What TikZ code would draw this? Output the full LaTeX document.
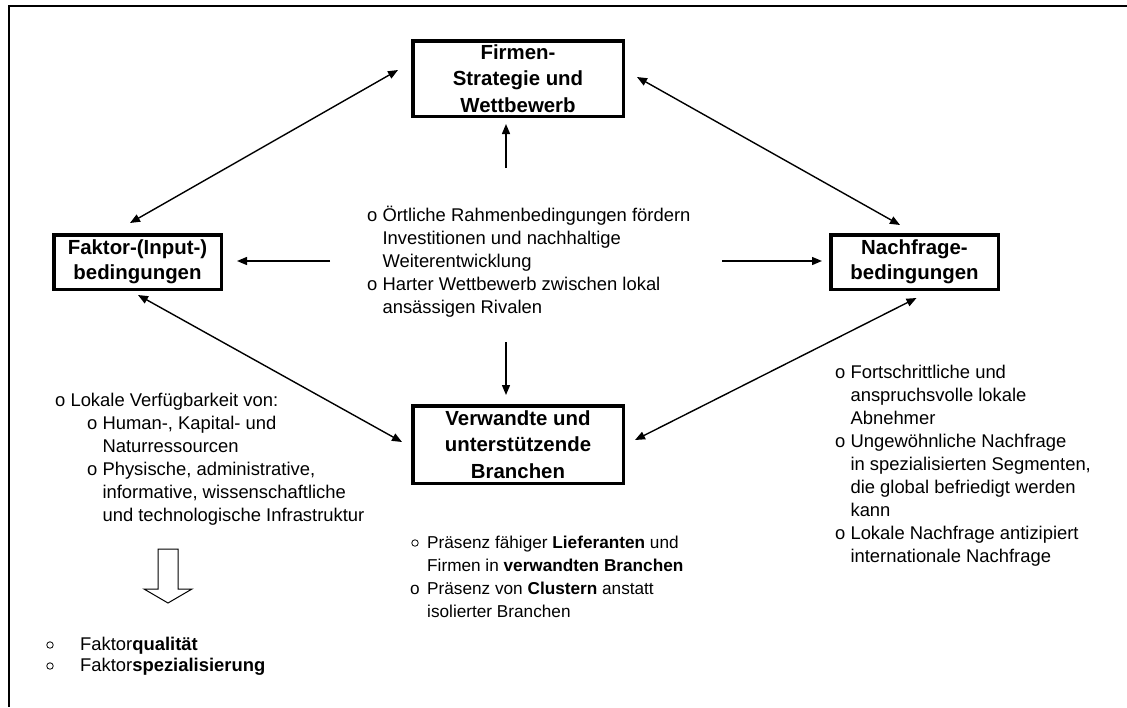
\documentclass[tikz,border=0pt]{standalone}
\usepackage{fontspec}
\setmainfont{Liberation Sans}
\usetikzlibrary{arrows.meta}
\tikzset{
  box/.style={draw, line width=3.5pt, align=center, inner sep=0pt,
    font=\fontsize{20.4}{25}\selectfont\bfseries},
  bigbox/.style={box, font=\fontsize{20.4}{26.5}\selectfont\bfseries},
  txt/.style={inner sep=0pt, anchor=base west, font=\fontsize{18.4}{23}\selectfont},
  smalltxt/.style={txt, font=\fontsize{17.2}{23.2}\selectfont},
  conn/.style={line width=1.4pt, -{Triangle[length=10pt,width=8pt]}},
  bconn/.style={line width=1.4pt, {Triangle[length=10pt,width=8pt]}-{Triangle[length=10pt,width=8pt]}},
  bul/.style={draw, line width=0.8pt, circle, inner sep=0pt, minimum size=6.5pt},
  frame/.style={line width=2pt},
  hollow/.style={line width=1pt}
}
\begin{document}
\begin{tikzpicture}[x=1pt,y=-1pt]
\useasboundingbox (0,0) rectangle (1127,707);
\draw[frame] (1127,6) -- (8.5,6) -- (8.5,707);

% boxes
\node[bigbox, minimum width=210.5pt, minimum height=75.5pt] (fir) at (518,78.5) {Firmen-\\Strategie und\\Wettbewerb};
\node[box, minimum width=167.5pt, minimum height=54.5pt] (fak) at (137.5,262) {Faktor-(Input-)\\bedingungen};
\node[box, minimum width=167.5pt, minimum height=54.5pt] (nach) at (914.5,262) {Nachfrage-\\bedingungen};
\node[bigbox, minimum width=210.5pt, minimum height=77.5pt] (ver) at (518,444.5) {Verwandte und\\unterstützende\\Branchen};

% central text
\node[txt] (ctext) at (367,221) {\begin{tabular}[t]{@{}l@{\ }l@{}}
o & Örtliche Rahmenbedingungen fördern\\
  & Investitionen und nachhaltige\\
  & Weiterentwicklung\\
o & Harter Wettbewerb zwischen lokal\\
  & ansässigen Rivalen
\end{tabular}};

% central arrows
\coordinate (cu) at (506,168);
\coordinate (cd) at (506,342);
\coordinate (cl) at (330,261);
\coordinate (cr) at (722,261);
\draw[conn] (cu) -- ([shift={(-12,6)}]fir.south);
\draw[conn] (cd) -- ([shift={(-12,-9)}]ver.north);
\draw[conn] (cl) -- ([shift={(14,-1)}]fak.east);
\draw[conn] (cr) -- ([shift={(-7,-1)}]nach.west);

% diagonal double arrows
\draw[bconn] ([shift={(-7.5,-10)}]fak.north) -- ([shift={(-13,-8.5)}]fir.west);
\draw[bconn] ([shift={(12,-1.5)}]fir.east) -- ([shift={(-14.5,-8)}]nach.north);
\draw[bconn] ([shift={(0.5,4)}]fak.south) -- ([shift={(-9,-2.5)}]ver.west);
\draw[bconn] ([shift={(2,7)}]nach.south) -- ([shift={(10,-4.5)}]ver.east);

% left text
\node[txt] (l1) at (55,406) {o Lokale Verfügbarkeit von:};
\node[txt] (l2) at (87,429) {\begin{tabular}[t]{@{}l@{\ }l@{}}
o & Human-, Kapital- und\\
  & Naturressourcen\\
o & Physische, administrative,\\
  & informative, wissenschaftliche\\
  & und technologische Infrastruktur
\end{tabular}};

% hollow arrow
\draw[hollow] (158,549) -- (158,589) -- (144,589) -- (168,603) -- (192,589) -- (178,589) -- (178,549) -- cycle;

% bottom-left list
\node[bul] (b1) at (50,645) {};
\node[bul] (b2) at (50,666) {};
\node[txt] (q1) at (80,650) {Faktor\textbf{qualität}};
\node[txt] (q2) at (80,671) {Faktor\textbf{spezialisierung}};

% right text
\node[txt] (rtext) at (835,378) {\begin{tabular}[t]{@{}l@{\ }l@{}}
o & Fortschrittliche und\\
  & anspruchsvolle lokale\\
  & Abnehmer\\
o & Ungewöhnliche Nachfrage\\
  & in spezialisierten Segmenten,\\
  & die global befriedigt werden\\
  & kann\\
o & Lokale Nachfrage antizipiert\\
  & internationale Nachfrage
\end{tabular}};

% bottom-middle list
\node[bul] (m1) at (415,543) {};
\node[smalltxt] (m2) at (410,594.4) {o};
\node[smalltxt] (mtext) at (427,548) {\begin{tabular}[t]{@{}l@{}}
Präsenz fähiger \textbf{Lieferanten} und\\
Firmen in \textbf{verwandten Branchen}\\
Präsenz von \textbf{Clustern} anstatt\\
isolierter Branchen
\end{tabular}};
\end{tikzpicture}
\end{document}
